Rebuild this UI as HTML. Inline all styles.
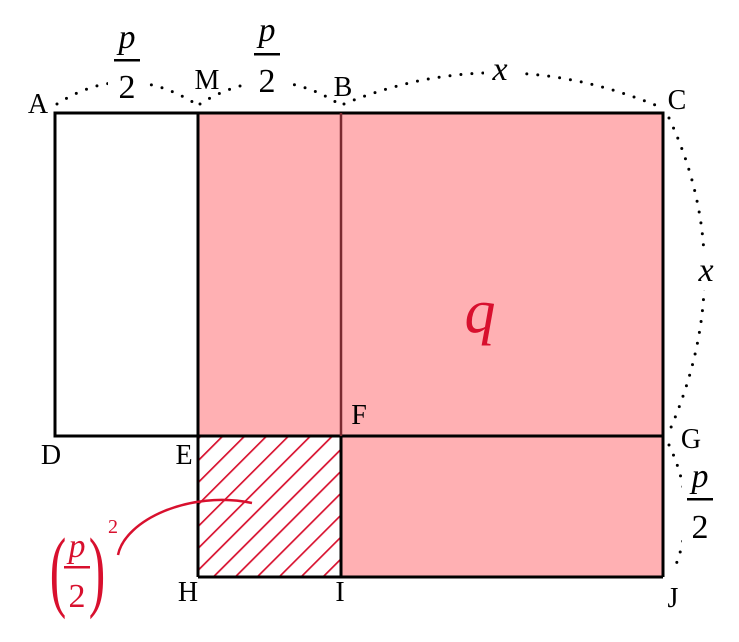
<!DOCTYPE html>
<html><head><style>html,body{margin:0;padding:0;background:#fff}</style></head><body>
<svg width="739" height="637" viewBox="0 0 739 637" xmlns="http://www.w3.org/2000/svg" font-family="Liberation Serif, serif">
<defs>
<pattern id="h" patternUnits="userSpaceOnUse" width="15.5" height="15.5" patternTransform="rotate(45)">
<rect width="15.5" height="15.5" fill="#fff"/>
<line x1="0" y1="0" x2="0" y2="15.5" stroke="#d8102e" stroke-width="3.4"/>
</pattern>
</defs>
<rect x="198" y="113" width="465" height="464" fill="#ffb0b3"/>
<rect x="198" y="436" width="143" height="141" fill="url(#h)"/>
<g stroke="#000" stroke-width="3" fill="none">
<rect x="55" y="113" width="608" height="323"/>
<line x1="198" y1="113" x2="198" y2="577"/>
<line x1="198" y1="577" x2="663" y2="577"/>
<line x1="341" y1="436" x2="341" y2="577"/>
<line x1="663" y1="436" x2="663" y2="577"/>
</g>
<line x1="341" y1="113" x2="341" y2="436" stroke="#7a2a30" stroke-width="2.5"/>
<g stroke="#000" stroke-width="3" fill="none" stroke-dasharray="0 11" stroke-linecap="round">
<path d="M57,104 Q126,60 196,104"/>
<path d="M200,104 Q270,60 339,104"/>
<path d="M344,104 Q500,40 660,107"/>
<path d="M669,118 Q740,270 669,432"/>
<path d="M669,445 Q700,510 673,572"/>
</g>
<g fill="#fff">
<rect x="108" y="60" width="38" height="40"/>
<rect x="248" y="54" width="38" height="40"/>
<rect x="484" y="50" width="34" height="36"/>
<rect x="690" y="250" width="34" height="40"/>
<rect x="682" y="458" width="36" height="92"/>
</g>
<path d="M118,555 C125,520 190,490 252,503" stroke="#d8102e" stroke-width="2.5" fill="none"/>
<g font-size="28" text-anchor="middle" fill="#000">
<text x="38" y="113">A</text><text x="207" y="89">M</text><text x="343" y="96">B</text>
<text x="677" y="109">C</text><text x="51" y="464">D</text><text x="184" y="464">E</text>
<text x="359" y="424">F</text><text x="691" y="448">G</text><text x="188" y="601">H</text>
<text x="340" y="601">I</text><text x="673" y="607">J</text>
</g>
<g font-size="34" text-anchor="middle" fill="#000">
<text x="127" y="48" font-style="italic">p</text><rect x="114" y="59" width="26" height="2.5"/><text x="127" y="98">2</text>
<text x="267" y="41" font-style="italic">p</text><rect x="254" y="53" width="26" height="2.5"/><text x="267" y="92">2</text>
<text x="700" y="487" font-style="italic">p</text><rect x="687" y="498" width="26" height="2.5"/><text x="700" y="538">2</text>
<text x="500" y="80" font-style="italic">x</text>
<text x="706" y="281" font-style="italic">x</text>
</g>
<text x="480" y="332" font-size="62" font-style="italic" text-anchor="middle" fill="#d8102e">q</text>
<g fill="#d8102e" font-size="34" text-anchor="middle">
<text x="0" y="0" font-size="90" transform="translate(58,600) scale(0.55,1)">(</text>
<text x="77" y="557" font-style="italic">p</text><rect x="64" y="566" width="26" height="2.5"/><text x="77" y="607">2</text>
<text x="0" y="0" font-size="90" transform="translate(97,600) scale(0.55,1)">)</text>
<text x="113" y="533" font-size="20">2</text>
</g>
</svg>
</body></html>
